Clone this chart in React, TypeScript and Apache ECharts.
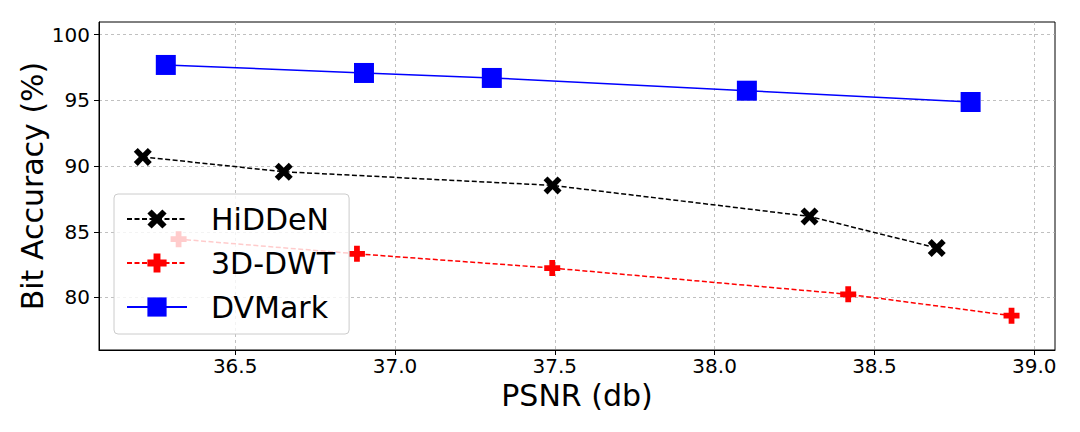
import React, { useEffect, useRef } from "react";
import * as echarts from "echarts";

const seriesNames = ["HiDDeN", "3D-DWT", "DVMark"];
const psnrHidden = [36.211, 36.652, 37.493, 38.297, 38.695];
const accHidden = [90.7, 89.57, 88.53, 86.17, 83.77];
const psnrDwt = [36.323, 36.881, 37.492, 38.418, 38.929];
const accDwt = [84.44, 83.32, 82.24, 80.24, 78.61];
const psnrDvmark = [36.283, 36.903, 37.303, 38.101, 38.801];
const accDvmark = [97.7, 97.09, 96.71, 95.74, 94.88];
const xTicks = [36.5, 37.0, 37.5, 38.0, 38.5, 39.0];
const yTicks = [80, 85, 90, 95, 100];

const FONT = "DejaVu Sans";
const X_PATH =
  "path://M0,2.2 L2.2,0 L5,2.8 L7.8,0 L10,2.2 L7.2,5 L10,7.8 L7.8,10 L5,7.2 L2.2,10 L0,7.8 L2.8,5 Z";
const PLUS_PATH =
  "path://M3.2,0 L6.8,0 L6.8,3.2 L10,3.2 L10,6.8 L6.8,6.8 L6.8,10 L3.2,10 L3.2,6.8 L0,6.8 L0,3.2 L3.2,3.2 Z";

function zip(xs: number[], ys: number[]) {
  return xs.map((x, i) => [x, ys[i]]);
}

export default function App() {
  const ref = useRef<HTMLDivElement>(null);
  useEffect(() => {
    if (!ref.current) return;
    const chart = echarts.init(ref.current, null, { renderer: "svg" });
    const gridLine = { show: true, lineStyle: { color: "#b0b0b0", type: [3, 3], width: 0.8 } };
    chart.setOption({
      animation: false,
      backgroundColor: "#ffffff",
      textStyle: { fontFamily: FONT },
      grid: {
        left: 99,
        right: 25,
        top: 22,
        bottom: 82,
        show: true,
        borderColor: "#000",
        borderWidth: 1,
        containLabel: false,
      },
      legend: {
        orient: "vertical",
        left: 114,
        top: 194,
        padding: [8, 14, 10, 12],
        backgroundColor: "rgba(255,255,255,0.8)",
        borderColor: "#cccccc",
        borderWidth: 1,
        borderRadius: 4,
        itemWidth: 60,
        itemHeight: 24,
        itemGap: 10,
        textStyle: { fontFamily: FONT, fontSize: 30, color: "#000", lineHeight: 34, padding: [0, 0, 0, 19] },
        data: seriesNames,
      },
      xAxis: {
        type: "value",
        min: 36.074,
        max: 39.065,
        name: "PSNR (db)",
        nameLocation: "middle",
        nameGap: 24,
        nameTextStyle: { fontFamily: FONT, fontSize: 30, color: "#000" },
        axisLine: { show: true, onZero: false, lineStyle: { color: "#000", width: 1 } },
        axisTick: { show: true, length: 5, lineStyle: { color: "#000" }, customValues: xTicks },
        axisLabel: {
          fontFamily: FONT,
          fontSize: 20,
          color: "#000",
          margin: 6,
          customValues: xTicks,
          formatter: (v: number) => v.toFixed(1),
        },
        splitLine: gridLine,
      },
      yAxis: {
        type: "value",
        min: 76.0,
        max: 100.97,
        name: "Bit Accuracy (%)",
        nameLocation: "middle",
        nameGap: 52,
        nameMoveOverlap: false,
        nameTextStyle: { fontFamily: FONT, fontSize: 30, color: "#000" },
        axisLine: { show: true, onZero: false, lineStyle: { color: "#000", width: 1 } },
        axisTick: { show: true, length: 5, lineStyle: { color: "#000" }, customValues: yTicks },
        axisLabel: {
          fontFamily: FONT,
          fontSize: 20,
          color: "#000",
          margin: 9,
          customValues: yTicks,
          formatter: (v: number) => String(Math.round(v)),
        },
        splitLine: gridLine,
      },
      series: [
        {
          name: seriesNames[0],
          type: "line",
          data: zip(psnrHidden, accHidden),
          symbol: X_PATH,
          symbolSize: 18,
          itemStyle: { color: "#000000" },
          lineStyle: { color: "#000000", width: 1.5, type: [5, 2.5] },
          z: 3,
        },
        {
          name: seriesNames[1],
          type: "line",
          data: zip(psnrDwt, accDwt),
          symbol: PLUS_PATH,
          symbolSize: 16,
          itemStyle: { color: "#ff0000" },
          lineStyle: { color: "#ff0000", width: 1.5, type: [5, 2.5] },
          z: 3,
        },
        {
          name: seriesNames[2],
          type: "line",
          data: zip(psnrDvmark, accDvmark),
          symbol: "rect",
          symbolSize: 20,
          itemStyle: { color: "#0000ff" },
          lineStyle: { color: "#0000ff", width: 1.5 },
          z: 3,
        },
      ],
    });
    return () => chart.dispose();
  }, []);
  return (
    <div
      ref={ref}
      style={{ position: "fixed", left: 0, top: 0, width: 1080, height: 432, background: "#fff" }}
    />
  );
}
